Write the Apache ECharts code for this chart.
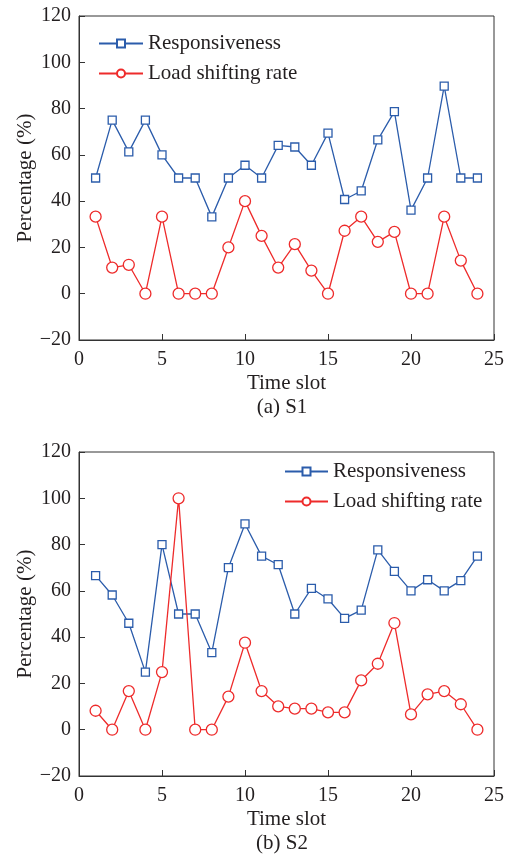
<!DOCTYPE html>
<html>
<head>
<meta charset="utf-8">
<script src="https://cdn.jsdelivr.net/npm/echarts@6/dist/echarts.min.js"></script>
<style>
html,body{margin:0;padding:0;background:#fff;}
#chart{width:511px;height:854px;}
</style>
</head>
<body>
<div id="chart"></div>
<script>
var timeSlots = [1,2,3,4,5,6,7,8,9,10,11,12,13,14,15,16,17,18,19,20,21,22,23,24];
var s1Responsiveness = [50,75,61.3,75,60,50,50,33.2,50,55.5,50,64.1,63.4,55.5,69.4,40.7,44.4,66.5,78.7,36.1,50,89.7,50,50];
var s1LoadShifting = [33.3,11.3,12.5,0,33.3,0,0,0,20,40,25,11.3,21.4,10,0,27.2,33.3,22.4,26.7,0,0,33.3,14.3,0];
var s2Responsiveness = [66.6,58.2,46,24.9,80,50,50,33.3,70,88.9,75,71.3,50,61.1,56.5,48.1,51.7,77.7,68.4,60,64.8,60,64.4,75];
var s2LoadShifting = [8.2,0,16.7,0,24.9,100,0,0,14.3,37.6,16.7,10.1,9.1,9.1,7.5,7.5,21.3,28.5,46.1,6.6,15.3,16.7,11,0];
var xTicks = [0,5,10,15,20,25];
var yTicks = [-20,0,20,40,60,80,100,120];
var seriesNames = ['Responsiveness','Load shifting rate'];
var captions = ['(a) S1','(b) S2'];

var FONT = 'Liberation Serif';
var TXT = '#231f20';
var BLUE = '#2b5cab';
var RED = '#ee2b2b';

function pairs(vals){ return timeSlots.map(function(t,i){ return [t, vals[i]]; }); }

var grids = [
  {left:79, top:16, width:415, height:324, show:true, borderColor:'#333', borderWidth:1},
  {left:79, top:452, width:415, height:324, show:true, borderColor:'#333', borderWidth:1}
];

function xAxisFor(idx){
  return {
    type:'value', gridIndex:idx, min:xTicks[0], max:xTicks[xTicks.length-1], interval:5,
    name:'Time slot', nameLocation:'middle', nameGap:33, nameMoveOverlap:false,
    nameTextStyle:{fontFamily:FONT, fontSize:21, color:TXT},
    axisLine:{onZero:false, lineStyle:{color:'#333', width:1}},
    axisTick:{inside:true, length:6, lineStyle:{color:'#333'}},
    axisLabel:{fontFamily:FONT, fontSize:20, color:TXT, margin:10},
    splitLine:{show:false}
  };
}
function yAxisFor(idx){
  return {
    type:'value', gridIndex:idx, min:yTicks[0], max:yTicks[yTicks.length-1], interval:20,
    name:'Percentage (%)', nameLocation:'middle', nameGap:43, nameRotate:90, nameMoveOverlap:false,
    nameTextStyle:{fontFamily:FONT, fontSize:21, color:TXT},
    axisLine:{show:true, onZero:false, lineStyle:{color:'#333', width:1}},
    axisTick:{inside:true, length:6, lineStyle:{color:'#333'}},
    axisLabel:{fontFamily:FONT, fontSize:20, color:TXT, margin:8,
      formatter:function(v){ return v < 0 ? '\u2212' + Math.abs(v) : String(v); }},
    splitLine:{show:false}
  };
}

function lineSeries(name, vals, idx, color, symbol, size){
  return {
    type:'line', name:name, xAxisIndex:idx, yAxisIndex:idx,
    data:pairs(vals), symbol:symbol, symbolSize:size, showAllSymbol:true,
    lineStyle:{color:color, width:1.3},
    itemStyle:{color:'#fff', borderColor:color, borderWidth:1.3},
    emphasis:{disabled:true}, animation:false
  };
}

var option = {
  backgroundColor:'#fff',
  animation:false,
  grid:grids,
  xAxis:[xAxisFor(0), xAxisFor(1)],
  yAxis:[yAxisFor(0), yAxisFor(1)],
  legend:[
    {orient:'vertical', left:98, top:33, padding:0, itemWidth:44, itemHeight:10, itemGap:9,
     data:seriesNames, textStyle:{fontFamily:FONT, fontSize:21, color:TXT}},
    {orient:'vertical', left:284, top:461, padding:0, itemWidth:43, itemHeight:10, itemGap:9,
     data:seriesNames, textStyle:{fontFamily:FONT, fontSize:21, color:TXT}}
  ],
  graphic:[
    {type:'text', x:282, y:397, style:{text:captions[0], font:'21px "Liberation Serif"', fill:TXT, textAlign:'center'}},
    {type:'text', x:282, y:833, style:{text:captions[1], font:'21px "Liberation Serif"', fill:TXT, textAlign:'center'}}
  ],
  series:[
    lineSeries(seriesNames[0], s1Responsiveness, 0, BLUE, 'rect', 8),
    lineSeries(seriesNames[1], s1LoadShifting, 0, RED, 'circle', 11),
    lineSeries(seriesNames[0], s2Responsiveness, 1, BLUE, 'rect', 8),
    lineSeries(seriesNames[1], s2LoadShifting, 1, RED, 'circle', 11)
  ]
};

var chart = echarts.init(document.getElementById('chart'), null, {renderer:'canvas'});
chart.setOption(option);
</script>
</body>
</html>
